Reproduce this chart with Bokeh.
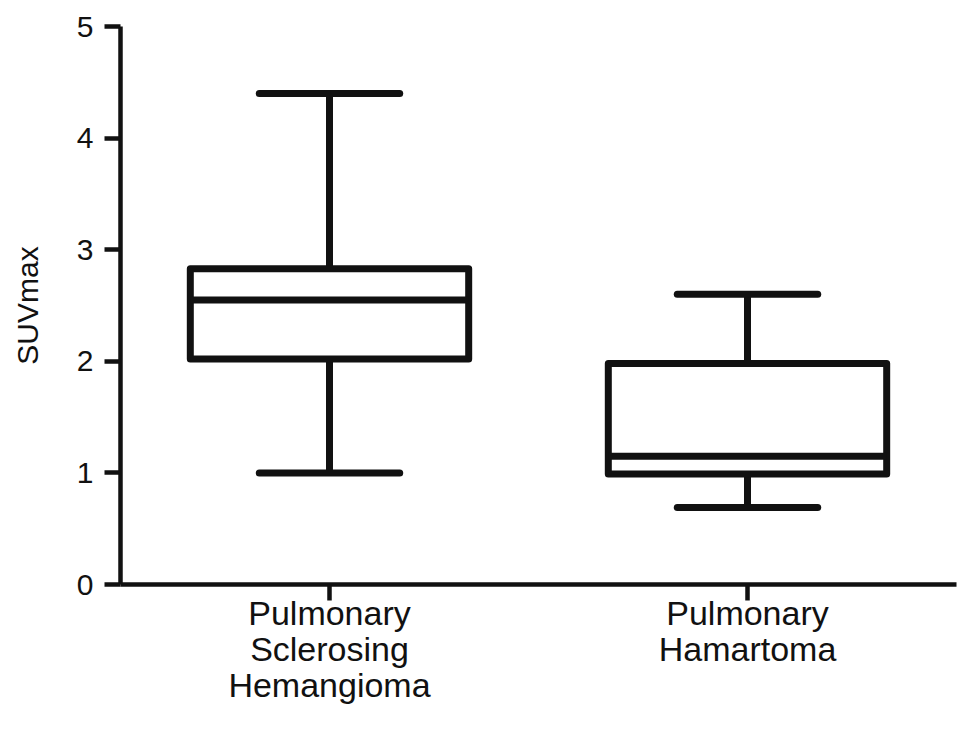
from bokeh.plotting import figure
from bokeh.models import ColumnDataSource, Range1d, FactorRange
from bokeh.transform import dodge
from bokeh.embed import file_html
from bokeh.resources import INLINE

categories = ["Pulmonary\nSclerosing\nHemangioma", "Pulmonary\nHamartoma"]
lower = [1.0, 0.69]
q1 = [2.02, 0.99]
median = [2.55, 1.15]
q3 = [2.83, 1.98]
upper = [4.40, 2.60]
y_ticks = [0, 1, 2, 3, 4, 5]

src = ColumnDataSource(dict(cat=categories, lower=lower, q1=q1, median=median, q3=q3, upper=upper))

FONT = "Liberation Sans"
INK = "#111111"
LW = 7

p = figure(width=961, height=739, output_backend="svg", toolbar_location=None,
           x_range=FactorRange(*categories, range_padding=0), y_range=Range1d(0, 5),
           min_border_left=120, min_border_right=5, min_border_top=26, min_border_bottom=155)
p.outline_line_color = None
p.grid.visible = False
p.background_fill_color = "white"

box_half = 0.333
cap_half = 0.168

# whiskers
p.segment(x0="cat", x1="cat", y0="q3", y1="upper", source=src, line_color=INK, line_width=LW)
p.segment(x0="cat", x1="cat", y0="lower", y1="q1", source=src, line_color=INK, line_width=LW)
# box
p.vbar(x="cat", width=2 * box_half, bottom="q1", top="q3", source=src, fill_color="white",
       line_color=INK, line_width=LW, line_join="round")
# median
p.segment(x0=dodge("cat", -box_half, range=p.x_range), x1=dodge("cat", box_half, range=p.x_range),
          y0="median", y1="median", source=src, line_color=INK, line_width=LW)
# caps
for col in ("upper", "lower"):
    p.segment(x0=dodge("cat", -cap_half, range=p.x_range), x1=dodge("cat", cap_half, range=p.x_range),
              y0=col, y1=col, source=src, line_color=INK, line_width=LW, line_cap="round")

for ax in (p.xaxis[0], p.yaxis[0]):
    ax.axis_line_color = INK
    ax.axis_line_width = 4.5
    ax.major_tick_line_color = INK
    ax.major_tick_line_width = 4.5
    ax.major_tick_in = 0
    ax.major_tick_out = 16
    ax.minor_tick_line_color = None
    ax.major_label_text_font = FONT
    ax.major_label_text_color = INK
    ax.axis_label_text_font = FONT
    ax.axis_label_text_font_style = "normal"
    ax.axis_label_text_color = INK

p.yaxis.ticker = y_ticks
p.yaxis.major_label_text_font_size = "30px"
p.yaxis.major_label_standoff = 11
p.yaxis.axis_label = "SUVmax"
p.yaxis.axis_label_text_font_size = "30px"
p.yaxis.axis_label_standoff = 30

p.xaxis.major_label_text_font_size = "34px"
p.xaxis.major_label_text_line_height = 0.95
p.xaxis.major_label_standoff = -7
p.xaxis.major_label_orientation = "horizontal"

open("out.html", "w").write(file_html(p, INLINE))
